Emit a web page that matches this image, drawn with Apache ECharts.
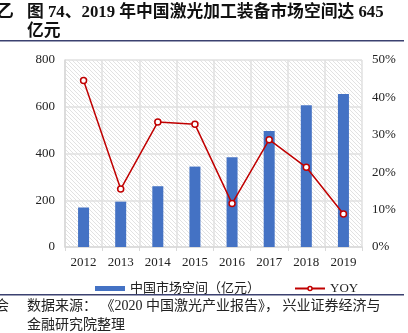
<!DOCTYPE html>
<html>
<head>
<meta charset="utf-8">
<style>
  html, body { margin: 0; padding: 0; background: #fff; }
  #chart { width: 408px; height: 333px; }
</style>
<script src="https://cdn.jsdelivr.net/npm/echarts@6/dist/echarts.min.js"></script>
</head>
<body>
<div id="chart"></div>
<script>
// Market size of laser processing equipment in China (亿元) and its year-over-year growth
const years = ['2012', '2013', '2014', '2015', '2016', '2017', '2018', '2019'];
const marketSize = [169, 194, 260, 344, 384, 496, 606, 655];
const yoy = [44.5, 15.5, 33.4, 32.8, 11.6, 28.7, 21.3, 8.8];
const leftTicks = { min: 0, max: 800, interval: 200 };
const rightTicks = { min: 0, max: 50, interval: 10 };

const titleLine1 = '图 74、2019 年中国激光加工装备市场空间达 645';
const titleLine2 = '亿元';
const sourceLine1 = '数据来源： 《2020 中国激光产业报告》， 兴业证券经济与';
const sourceLine2 = '金融研究院整理';

const serif = '"Liberation Serif", "Noto Sans CJK SC", serif';

// Fine diagonal hatch used as the plot background
function hatchPattern() {
  const c = document.createElement('canvas');
  c.width = 4; c.height = 4;
  const g = c.getContext('2d');
  g.fillStyle = '#ffffff';
  g.fillRect(0, 0, 4, 4);
  g.strokeStyle = '#e2e2e2';
  g.lineWidth = 1;
  g.beginPath();
  g.moveTo(-1, -1); g.lineTo(5, 5);
  g.moveTo(-1, 3); g.lineTo(1, 5);
  g.moveTo(3, -1); g.lineTo(5, 1);
  g.stroke();
  return { image: c, repeat: 'repeat' };
}

const chart = echarts.init(document.getElementById('chart'), null, { renderer: 'canvas' });

chart.setOption({
  animation: false,
  backgroundColor: '#ffffff',
  grid: {
    left: 65, right: 46, top: 60, bottom: 86,
    show: true,
    borderWidth: 0,
    backgroundColor: hatchPattern()
  },
  legend: {
    top: 277,
    left: 90,
    itemGap: 34,
    itemWidth: 30,
    itemHeight: 5,
    textStyle: { fontFamily: serif, fontSize: 13, color: '#222' },
    data: [
      { name: '中国市场空间（亿元）', icon: 'rect' },
      { name: 'YOY', itemStyle: { color: '#fff', borderColor: '#c00000', borderWidth: 1.5 } }
    ]
  },
  xAxis: {
    type: 'category',
    data: years,
    boundaryGap: true,
    axisLine: { lineStyle: { color: '#d9d9d9', width: 1.5 } },
    axisTick: { show: true, length: 4, lineStyle: { color: '#d9d9d9' } },
    splitLine: { show: true, lineStyle: { color: '#e0e0e0', width: 1.5 } },
    axisLabel: { fontFamily: serif, fontSize: 13, color: '#222', margin: 9 }
  },
  yAxis: [
    {
      type: 'value',
      min: leftTicks.min, max: leftTicks.max, interval: leftTicks.interval,
      axisLine: { show: true, lineStyle: { color: '#d9d9d9', width: 1.5 } },
      axisTick: { show: false },
      splitLine: { show: true, lineStyle: { color: '#e0e0e0', width: 1.5 } },
      axisLabel: { fontFamily: serif, fontSize: 13, color: '#222', margin: 10 }
    },
    {
      type: 'value',
      min: rightTicks.min, max: rightTicks.max, interval: rightTicks.interval,
      axisLine: { show: false },
      axisTick: { show: false },
      splitLine: { show: false },
      axisLabel: { fontFamily: serif, fontSize: 13, color: '#222', margin: 10, formatter: '{value}%' }
    }
  ],
  series: [
    {
      name: '中国市场空间（亿元）',
      type: 'bar',
      data: marketSize,
      barWidth: 11,
      itemStyle: { color: '#4472c4' },
      z: 2
    },
    {
      name: 'YOY',
      type: 'line',
      yAxisIndex: 1,
      data: yoy,
      symbol: 'circle',
      symbolSize: 6,
      lineStyle: { color: '#c00000', width: 1.5 },
      itemStyle: { color: '#ffffff', borderColor: '#c00000', borderWidth: 1.5 },
      z: 3
    }
  ],
  graphic: [
    { type: 'text', left: -3, top: 4, style: { text: '乙', font: 'bold 16.8px ' + serif, fill: '#111' } },
    { type: 'text', left: 27, top: 4, style: { text: titleLine1, font: 'bold 16.8px ' + serif, fill: '#111' } },
    { type: 'text', left: 27, top: 23, style: { text: titleLine2, font: 'bold 16.8px ' + serif, fill: '#111' } },
    { type: 'rect', shape: { x: 0, y: 40, width: 404, height: 1.5 }, style: { fill: '#3b4170' } },
    { type: 'rect', shape: { x: 0, y: 294, width: 404, height: 1.5 }, style: { fill: '#3b4170' } },
    { type: 'text', left: -5, top: 299, style: { text: '会', font: '14px ' + serif, fill: '#222' } },
    { type: 'text', left: 27, top: 299, style: { text: sourceLine1, font: '14px ' + serif, fill: '#222' } },
    { type: 'text', left: 27, top: 318, style: { text: sourceLine2, font: '14px ' + serif, fill: '#222' } }
  ]
});
</script>
</body>
</html>
